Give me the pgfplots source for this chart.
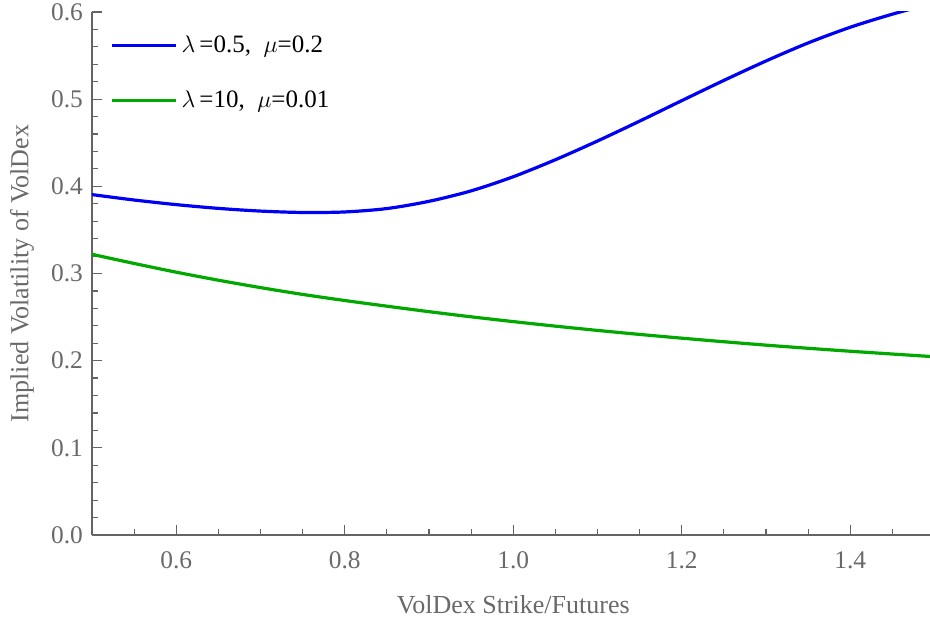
\documentclass[border=0pt]{standalone}
\usepackage{pgfplots}
\pgfplotsset{compat=1.18}
\usepackage{fontspec}
\setmainfont{Liberation Serif}
\definecolor{axgray}{RGB}{100,100,100}
\definecolor{txtgray}{RGB}{105,105,105}
\definecolor{mblue}{RGB}{0,0,245}
\definecolor{mgreen}{RGB}{0,168,0}
\pgfplotstableread{
x y
0.50 0.3905
0.55 0.3843
0.60 0.3790
0.65 0.3747
0.70 0.3716
0.75 0.3700
0.80 0.3706
0.85 0.3745
0.90 0.3828
0.95 0.3948
1.00 0.4110
1.05 0.4305
1.10 0.4520
1.15 0.4748
1.20 0.4983
1.25 0.5215
1.30 0.5438
1.35 0.5645
1.40 0.5825
1.45 0.5975
1.50 0.6105
}\blue
\pgfplotstableread{
x y
0.50 0.3220
0.55 0.3115
0.60 0.3015
0.65 0.2923
0.70 0.2838
0.75 0.2760
0.80 0.2690
0.85 0.2625
0.90 0.2562
0.95 0.2503
1.00 0.2448
1.05 0.2396
1.10 0.2347
1.15 0.2301
1.20 0.2258
1.25 0.2217
1.30 0.2178
1.35 0.2142
1.40 0.2108
1.45 0.2076
1.50 0.2045
}\green
\begin{document}
\begin{tikzpicture}
\begin{axis}[
  scale only axis,
  width=421.25pt, height=261.5pt,
  xmin=0.5, xmax=1.5, ymin=0, ymax=0.6,
  axis x line=bottom, axis y line=left,
  axis line style={-, axgray, line width=0.7pt},
  xtick={0.6,0.8,1.0,1.2,1.4},
  minor xtick={0.55,0.65,0.7,0.75,0.85,0.9,0.95,1.05,1.1,1.15,1.25,1.3,1.35,1.45},
  ytick={0,0.1,0.2,0.3,0.4,0.5,0.6},
  minor ytick={0.02,0.04,0.06,0.08,0.12,0.14,0.16,0.18,0.22,0.24,0.26,0.28,0.32,0.34,0.36,0.38,0.42,0.44,0.46,0.48,0.52,0.54,0.56,0.58},
  /pgf/number format/fixed,
  /pgf/number format/fixed zerofill,
  /pgf/number format/precision=1,
  /pgf/number format/assume math mode=true,
  tick align=inside,
  major tick length=5pt, minor tick length=3pt,
  tick style={axgray, line width=0.6pt},
  ticklabel style={font=\fontsize{12.7}{14}\selectfont, text=txtgray},
  xticklabel style={yshift=-5pt},
  yticklabel style={xshift=-1pt},
  xlabel={VolDex Strike/Futures},
  ylabel={Implied Volatility of VolDex},
  label style={font=\fontsize{13}{15}\selectfont, text=txtgray},
  xlabel style={at={(rel axis cs:0.5,0)}, anchor=center, yshift=-35pt},
  ylabel style={at={(rel axis cs:0,0.5)}, anchor=center, yshift=35pt},
  clip=true,
  legend style={draw=none, fill=none, at={(rel axis cs:0,1)}, anchor=north west,
    xshift=9pt, yshift=-9.75pt, font=\fontsize{12.5}{14}\selectfont,
    row sep=13.5pt, inner sep=0pt},
  legend cell align=left,
  legend image code/.code={\draw[#1] (0pt,0pt) -- (25pt,0pt); \path (0pt,0pt) -- (32pt,0pt);},
]
\addplot[mblue, line width=1.6pt, smooth] table[x=x,y=y] {\blue};
\addlegendentry{$\lambda$\,=0.5,\ \ $\mu$=0.2}
\addplot[mgreen, line width=1.6pt, smooth] table[x=x,y=y] {\green};
\addlegendentry{$\lambda$\,=10,\ \ $\mu$=0.01}
\coordinate (bl) at (rel axis cs:0,0);
\coordinate (tr) at (rel axis cs:1,1);
\end{axis}
\pgfresetboundingbox
\path[use as bounding box] ([xshift=-46pt,yshift=-43.5pt]bl) rectangle ([xshift=-2.25pt,yshift=6pt]tr);
\end{tikzpicture}
\end{document}
